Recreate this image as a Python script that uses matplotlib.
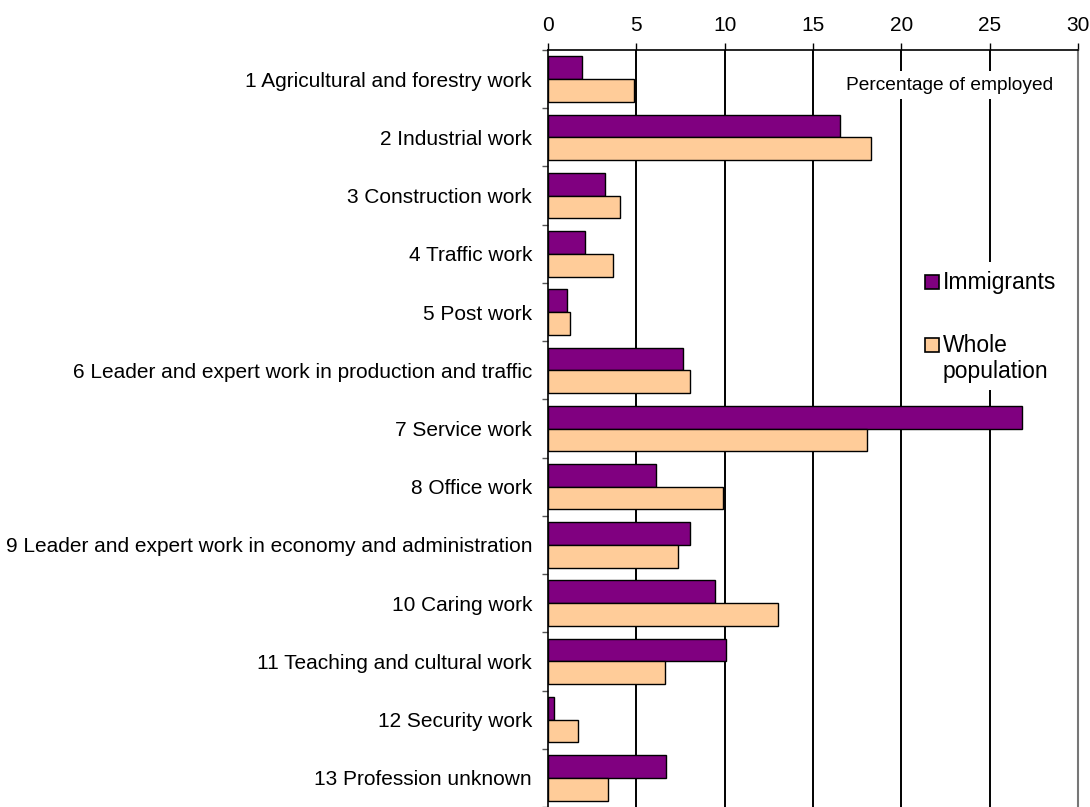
import numpy as np
import matplotlib.pyplot as plt
from matplotlib.patches import Rectangle
from matplotlib.ticker import FixedLocator

plt.rcParams['font.family'] = ['Liberation Sans', 'DejaVu Sans']

# Dados
categorias = [
    "1 Agricultural and forestry work",
    "2 Industrial work",
    "3 Construction work",
    "4 Traffic work",
    "5 Post work",
    "6 Leader and expert work in production and traffic",
    "7 Service work",
    "8 Office work",
    "9 Leader and expert work in economy and administration",
    "10 Caring work",
    "11 Teaching and cultural work",
    "12 Security work",
    "13 Profession unknown",
]
imigrantes = [1.95, 16.5, 3.25, 2.1, 1.1, 7.65, 26.85, 6.1, 8.05, 9.45, 10.05, 0.35, 6.65]
populacao = [4.85, 18.3, 4.05, 3.65, 1.25, 8.05, 18.05, 9.9, 7.35, 13.0, 6.6, 1.72, 3.42]
legendas = ["Immigrants", "Whole\npopulation"]
xticks = [0, 5, 10, 15, 20, 25, 30]

cor_imig = '#800080'
cor_pop = '#FFCC99'

fig = plt.figure(figsize=(10.9, 8.07), dpi=100)
ax = fig.add_axes([0.5028, 0.0, 0.4862, 0.938])

y = np.arange(len(categorias))
h = 0.39
ax.barh(y - h / 2, imigrantes, height=h, color=cor_imig, edgecolor='black', linewidth=1, zorder=3)
ax.barh(y + h / 2, populacao, height=h, color=cor_pop, edgecolor='black', linewidth=1, zorder=3)

ax.set_xlim(0, 30)
ax.set_ylim(len(categorias) - 0.5, -0.5)

# eixo x no topo
ax.xaxis.tick_top()
ax.set_xticks(xticks)
ax.tick_params(axis='x', direction='out', length=5, width=1, labelsize=15, pad=6)
for xv in xticks[1:-1]:
    ax.axvline(xv, color='black', linewidth=1.4, zorder=1)

# rótulos das categorias, traços entre categorias
ax.set_yticks(y)
ax.set_yticklabels(categorias, fontsize=15)
ax.tick_params(axis='y', which='major', length=0, pad=11.5)
ax.yaxis.set_minor_locator(FixedLocator(np.arange(-0.5, len(categorias), 1.0)))
ax.tick_params(axis='y', which='minor', length=4.5, width=1, direction='out', color='#555555')

ax.spines['bottom'].set_visible(False)
ax.spines['right'].set_color('#777777')
ax.spines['right'].set_linewidth(1.5)
ax.spines['top'].set_linewidth(1.2)
ax.spines['left'].set_linewidth(1.2)

ax.text(0.953, 0.9538, "Percentage of employed", transform=ax.transAxes, ha='right', va='center',
        fontsize=13.8, bbox=dict(facecolor='white', edgecolor='none', pad=4), zorder=4)

# legenda desenhada à mão (quadrado alinhado à primeira linha)
ax.add_patch(Rectangle((0.698, 0.551), 0.272, 0.169, transform=ax.transAxes,
                       facecolor='white', edgecolor='none', zorder=4))
for cor, rot, ys, yt in [(cor_imig, legendas[0], 0.6843, 0.6935), (cor_pop, legendas[1], 0.601, 0.5925)]:
    ax.add_patch(Rectangle((0.711, ys), 0.0264, 0.0185, transform=ax.transAxes,
                           facecolor=cor, edgecolor='black', linewidth=1.2, zorder=5))
    ax.text(0.745, yt, rot, transform=ax.transAxes, ha='left', va='center',
            fontsize=16.5, linespacing=1.2, zorder=5)

plt.savefig('out.png', dpi=100)
